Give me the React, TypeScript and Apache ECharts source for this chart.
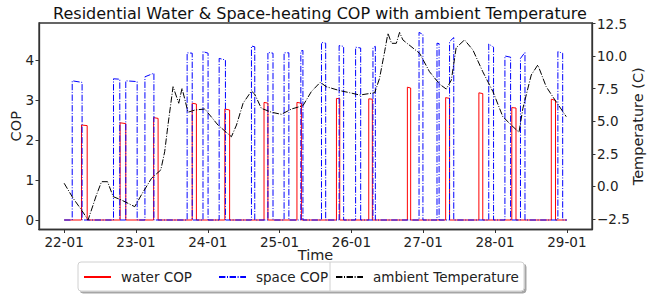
import React, { useEffect, useRef } from "react";
import * as echarts from "echarts";

// hours since 22-01 00:00, value
const waterCOP: [number, number][] = [
  [0, 0],
  [5.8, 0], [5.8, 2.375], [7.7, 2.36], [7.7, 0],
  [18.7, 0], [18.7, 2.43], [20.6, 2.41], [20.6, 0],
  [29.9, 0], [29.9, 2.56], [31.4, 2.54], [31.4, 0],
  [42.8, 0], [42.8, 2.92], [44.2, 2.9], [44.2, 0],
  [53.7, 0], [53.7, 2.775], [55.3, 2.75], [55.3, 0],
  [66.8, 0], [66.8, 2.94], [68.1, 2.92], [68.1, 0],
  [77.8, 0], [77.8, 2.94], [79.3, 2.92], [79.3, 0],
  [91.0, 0], [91.0, 3.04], [92.1, 3.03], [92.1, 0],
  [101.8, 0], [101.8, 3.03], [103.0, 3.02], [103.0, 0],
  [114.7, 0], [114.7, 3.32], [115.8, 3.3], [115.8, 0],
  [127.5, 0], [127.5, 3.06], [128.8, 3.04], [128.8, 0],
  [138.6, 0], [138.6, 3.18], [139.9, 3.16], [139.9, 0],
  [149.6, 0], [149.6, 2.81], [151.0, 2.8], [151.0, 0],
  [162.8, 0], [162.8, 3.02], [164.2, 2.99], [164.2, 0],
  [168, 0],
];

const spaceCOP: [number, number][] = [
  [0, 0],
  [2.7, 0], [2.7, 3.48], [6.0, 3.44], [6.0, 0],
  [16.5, 0], [16.5, 3.53], [18.6, 3.52], [18.6, 0],
  [20.6, 0], [20.6, 3.48], [24.4, 3.46], [24.4, 0],
  [27.0, 0], [27.0, 3.58], [30.0, 3.67], [30.0, 0],
  [41.1, 0], [41.1, 4.18], [42.8, 4.17], [42.8, 0],
  [46.4, 0], [46.4, 4.21], [48.1, 4.17], [48.1, 0],
  [51.8, 0], [51.8, 4.04], [53.9, 4.0], [53.9, 0],
  [62.6, 0], [62.6, 4.35], [63.7, 4.33], [63.7, 0],
  [68.1, 0], [68.1, 4.19], [69.8, 4.17], [69.8, 0],
  [73.5, 0], [73.5, 4.18], [75.1, 4.18], [75.1, 0],
  [79.1, 0], [79.1, 4.22], [79.8, 4.24], [79.8, 0],
  [86.0, 0], [86.0, 4.44], [87.4, 4.42], [87.4, 0],
  [91.9, 0], [91.9, 4.36], [93.4, 4.34], [93.4, 0],
  [97.4, 0], [97.4, 4.32], [99.1, 4.3], [99.1, 0],
  [103.2, 0], [103.2, 4.31], [104.0, 4.34], [104.0, 0],
  [118.6, 0], [118.6, 4.69], [119.9, 4.64], [119.9, 0],
  [124.6, 0], [124.6, 4.42], [125.3, 4.41], [125.3, 0],
  [128.8, 0], [128.8, 4.46], [130.2, 4.56], [130.2, 0],
  [141.9, 0], [141.9, 4.4], [143.5, 4.32], [143.5, 0],
  [147.3, 0], [147.3, 4.1], [149.2, 4.07], [149.2, 0],
  [152.5, 0], [152.5, 4.04], [154.0, 4.19], [154.0, 0],
  [165.0, 0], [165.0, 4.21], [166.6, 4.17], [166.6, 0],
  [168, 0],
];

const ambientTemp: [number, number][] = [
  [0, 0.24], [3, -0.91], [5.8, -1.81], [8, -2.58], [10.8, -0.66], [12.5, 0.36],
  [14.5, 0.36], [16.4, -0.79], [19.1, -1.04], [23.6, -1.56], [25.8, -0.66],
  [29.2, 0.62], [32.3, 1.26], [33.6, 2.66], [34.7, 4.71], [36.4, 7.65],
  [38.3, 6.38], [39.4, 7.53], [41.4, 5.69], [43.7, 5.86], [47, 5.94],
  [51.4, 4.71], [55.9, 3.81], [57.6, 4.71], [59.8, 6.38], [62.6, 7.32],
  [63.7, 7.07], [65.9, 5.99], [69.3, 5.69], [72.6, 5.53], [76, 5.94],
  [79.8, 6.19], [82.6, 7.27], [85.6, 7.99], [87.6, 7.65], [92.1, 7.35],
  [95.4, 7.19], [98.8, 7.01], [103.8, 7.19], [105.4, 8.29], [107.1, 10.34],
  [108.2, 11.75], [109.4, 10.98], [111, 10.98], [112.1, 11.82], [113.2, 11.24],
  [118.8, 10.21], [122.1, 8.8], [125.5, 7.84], [127.7, 7.47], [129.4, 8.16],
  [131, 10.64], [133.8, 11.24], [136.6, 10.47], [139.9, 8.8], [143.3, 7.27],
  [146.6, 5.35], [149.4, 4.71], [152, 4.15], [153.3, 5.99], [156.1, 8.55],
  [158.3, 9.32], [161.1, 7.65], [163.3, 6.88], [167.8, 5.35],
];

const xTickHours = [0, 24, 48, 72, 96, 120, 144, 168];
const xTickLabels = ["22-01", "23-01", "24-01", "25-01", "26-01", "27-01", "28-01", "29-01"];
const copTicks = [0, 1, 2, 3, 4];
const tempTicks = [-2.5, 0, 2.5, 5, 7.5, 10, 12.5];
const seriesNames = ["water COP", "space COP", "ambient Temperature"];

const FONT = "DejaVu Sans";
const AXIS_COLOR = "#333333";
const TEXT_COLOR = "#222222";
const DASHDOT = [6.4, 1.6, 1, 1.6];

export default function App() {
  const ref = useRef<HTMLDivElement>(null);
  useEffect(() => {
    if (!ref.current) return;
    const chart = echarts.init(ref.current, null, { renderer: "svg" });
    const axisLine = { show: true, onZero: false, lineStyle: { color: AXIS_COLOR, width: 1.3 } };
    const legendCommon = {
      top: 270,
      orient: "horizontal",
      itemWidth: 27,
      itemHeight: 12,
      itemGap: 0,
      padding: 0,
      itemStyle: { opacity: 0 },
      textStyle: { fontFamily: FONT, fontSize: 13.5, color: TEXT_COLOR, padding: [0, 0, 0, 5] },
      selectedMode: false,
    };
    const nameStyle = { fontSize: 14.5, color: TEXT_COLOR, fontFamily: FONT };
    chart.setOption({
      animation: false,
      textStyle: { fontFamily: FONT },
      title: {
        text: "Residential Water & Space-heating COP with ambient Temperature",
        left: 315,
        textAlign: "center",
        top: 0,
        textStyle: { fontFamily: FONT, fontSize: 16, fontWeight: "normal", color: "#111" },
      },
      grid: {
        left: 39,
        right: 56,
        top: 23,
        bottom: 65.5,
        show: true,
        borderColor: AXIS_COLOR,
        borderWidth: 1.3,
        backgroundColor: "transparent",
        outerBoundsMode: "none",
        containLabel: false,
      },
      legend: [
        { ...legendCommon, left: 83, data: [seriesNames[0]] },
        { ...legendCommon, left: 218, data: [seriesNames[1]] },
        { ...legendCommon, left: 335, data: [seriesNames[2]] },
      ],
      xAxis: {
        type: "value",
        min: -8.4,
        max: 176.4,
        axisLine,
        splitLine: { show: false },
        axisTick: { show: true, length: 3.5, customValues: xTickHours, lineStyle: { color: AXIS_COLOR } },
        axisLabel: {
          customValues: xTickHours,
          margin: 5,
          fontSize: 13.5,
          color: TEXT_COLOR,
          fontFamily: FONT,
          formatter: (v: number) => xTickLabels[Math.round(v / 24)] ?? "",
        },
        name: "Time",
        nameLocation: "middle",
        nameGap: 18,
        nameMoveOverlap: false,
        nameTextStyle: nameStyle,
      },
      yAxis: [
        {
          type: "value",
          min: -0.2375,
          max: 4.925,
          position: "left",
          axisLine,
          splitLine: { show: false },
          axisTick: { show: true, length: 3.5, customValues: copTicks, lineStyle: { color: AXIS_COLOR } },
          axisLabel: {
            customValues: copTicks,
            margin: 5,
            fontSize: 13.5,
            color: TEXT_COLOR,
            fontFamily: FONT,
            formatter: (v: number) => String(v),
          },
          name: "COP",
          nameLocation: "middle",
          nameGap: 16,
          nameMoveOverlap: false,
          nameRotate: 90,
          nameTextStyle: nameStyle,
        },
        {
          type: "value",
          min: -3.31,
          max: 12.54,
          position: "right",
          axisLine,
          splitLine: { show: false },
          axisTick: { show: true, length: 3.5, customValues: tempTicks, lineStyle: { color: AXIS_COLOR } },
          axisLabel: {
            customValues: tempTicks,
            margin: 5,
            fontSize: 13.5,
            color: TEXT_COLOR,
            fontFamily: FONT,
            formatter: (v: number) => (v < 0 ? "\u2212" : "") + Math.abs(v).toFixed(1),
          },
          name: "Temperature (C)",
          nameLocation: "middle",
          nameGap: 38.5,
          nameMoveOverlap: false,
          nameRotate: 90,
          nameTextStyle: nameStyle,
        },
      ],
      series: [
        {
          name: seriesNames[0],
          type: "line",
          yAxisIndex: 0,
          data: waterCOP,
          symbol: "none",
          color: "#ff0000",
          lineStyle: { color: "#ff0000", width: 1 },
        },
        {
          name: seriesNames[1],
          type: "line",
          yAxisIndex: 0,
          data: spaceCOP,
          symbol: "none",
          color: "#0000ff",
          lineStyle: { color: "#0000ff", width: 1, type: DASHDOT },
        },
        {
          name: seriesNames[2],
          type: "line",
          yAxisIndex: 1,
          data: ambientTemp,
          symbol: "none",
          color: "#000000",
          lineStyle: { color: "#000000", width: 1, type: DASHDOT },
        },
      ],
      graphic: [
        {
          type: "rect",
          shape: { x: 78, y: 262, width: 446, height: 29, r: 3 },
          style: {
            fill: "#ffffff",
            stroke: "#d0d0d0",
            lineWidth: 1,
            shadowColor: "rgba(0,0,0,0.35)",
            shadowOffsetX: 2,
            shadowOffsetY: 2,
            shadowBlur: 1,
          },
          z: -10,
          silent: true,
        },
        {
          type: "line",
          shape: { x1: 330, y1: 262, x2: 330, y2: 291 },
          style: { stroke: "#d0d0d0", lineWidth: 1 },
          z: -5,
          silent: true,
        },
      ],
    });
    return () => chart.dispose();
  }, []);
  return (
    <div
      ref={ref}
      style={{ position: "fixed", left: 0, top: 0, width: 648, height: 295, background: "#fff" }}
    />
  );
}
